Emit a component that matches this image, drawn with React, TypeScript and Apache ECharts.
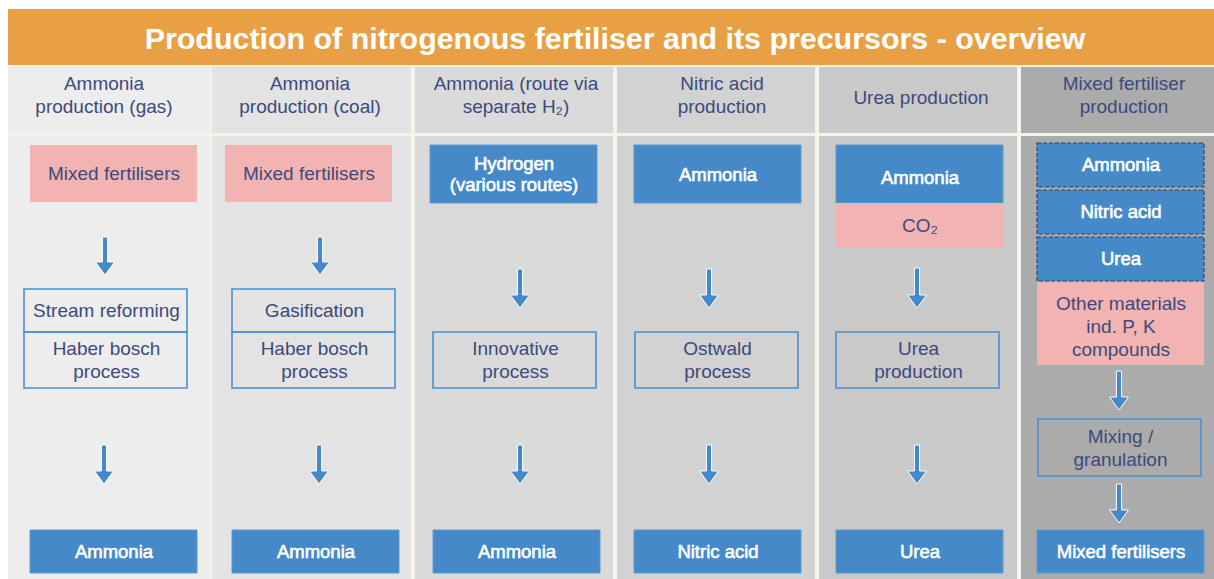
import React, { useEffect, useRef } from "react";
import * as echarts from "echarts";

// ---------- content ----------
const TITLE = "Production of nitrogenous fertiliser and its precursors - overview";

const columnTitles: string[][] = [
  ["Ammonia", "production (gas)"],
  ["Ammonia", "production (coal)"],
  ["Ammonia (route via", "separate H₂)"],
  ["Nitric acid", "production"],
  ["Urea production"],
  ["Mixed fertiliser", "production"],
];

type Role = "product" | "material" | "intermediate";
const inputs: { label: string[]; role: Role }[][] = [
  [{ label: ["Mixed fertilisers"], role: "material" }],
  [{ label: ["Mixed fertilisers"], role: "material" }],
  [{ label: ["Hydrogen", "(various routes)"], role: "product" }],
  [{ label: ["Ammonia"], role: "product" }],
  [
    { label: ["Ammonia"], role: "product" },
    { label: ["CO₂"], role: "material" },
  ],
  [
    { label: ["Ammonia"], role: "intermediate" },
    { label: ["Nitric acid"], role: "intermediate" },
    { label: ["Urea"], role: "intermediate" },
    { label: ["Other materials", "ind. P, K", "compounds"], role: "material" },
  ],
];

const processes: string[][][] = [
  [["Stream reforming"], ["Haber bosch", "process"]],
  [["Gasification"], ["Haber bosch", "process"]],
  [["Innovative", "process"]],
  [["Ostwald", "process"]],
  [["Urea", "production"]],
  [["Mixing /", "granulation"]],
];

const outputs: string[] = ["Ammonia", "Ammonia", "Ammonia", "Nitric acid", "Urea", "Mixed fertilisers"];

// ---------- layout ----------
const colLeft = [8, 212, 415, 617, 819, 1021];
const colRight = [210, 411, 613, 815, 1017, 1214];
const colFill = ["#EDEDED", "#E3E3E3", "#DADADA", "#D2D2D2", "#C9C9C9", "#ABABAB"];
const headerCx = [104, 310, 516, 722, 921, 1124];
const HEADER_TOP = 67;
const HEADER_BOTTOM = 133;
const BODY_TOP = 136;
const BODY_BOTTOM = 579;

const inputX = [30, 225, 430, 634, 836, 1037];
const BOX_W = 167;
const inputRows: number[][][] = [
  [[145, 57]],
  [[145, 57]],
  [[145, 58]],
  [[145, 58]],
  [[145, 58], [203, 45]],
  [[143, 44], [190, 44], [237, 44], [282, 83]],
];

const processX = [24, 232, 433, 635, 836, 1038];
const PROC_W = 163;
const processRows: number[][][] = [
  [[289, 43], [332, 56]],
  [[289, 43], [332, 56]],
  [[332, 56]],
  [[332, 56]],
  [[332, 56]],
  [[419, 57]],
];

const arrows: number[][][] = [
  [[105, 237, 275], [104, 445, 484]],
  [[320, 237, 275], [319, 445, 484]],
  [[520, 269, 308], [520, 445, 484]],
  [[709, 269, 308], [709, 445, 484]],
  [[917, 268, 308], [917, 445, 484]],
  [[1119, 371, 410], [1119, 484, 523]],
];

const outputX = [30, 232, 433, 634, 836, 1037];
const OUT_Y = 530;
const OUT_H = 43;

// ---------- styles ----------
const FONT = '"Liberation Sans", Arial, Helvetica, sans-serif';
const NAVY = "#3D4A7B";
const BLUE = "#4589C8";
const PINK = "#F1B4B3";
const ORANGE = "#E9A044";
const GAP = "#F3F5E9";

function textEl(lines: string[], cx: number, cy: number, opts: any = {}) {
  const lh = opts.lineHeight ?? 23;
  const style: any = {
    text: lines.join("\n"),
    x: cx,
    y: cy,
    align: "center",
    verticalAlign: "middle",
    fontFamily: FONT,
    fontSize: opts.fontSize ?? 19,
    fontWeight: opts.fontWeight ?? "normal",
    lineHeight: lh,
    fill: opts.fill ?? NAVY,
  };
  if (opts.semibold) {
    style.stroke = opts.fill;
    style.lineWidth = 0.6;
  }
  return { type: "text", silent: true, z: 10, style };
}

function arrowEl(cx: number, y0: number, y1: number) {
  const sw = 2.6;
  const hw = 9.5;
  const hh = 13;
  return {
    type: "polygon",
    silent: true,
    z: 5,
    shape: {
      points: [
        [cx - sw, y0],
        [cx + sw, y0],
        [cx + sw, y1 - hh],
        [cx + hw, y1 - hh],
        [cx, y1],
        [cx - hw, y1 - hh],
        [cx - sw, y1 - hh],
      ],
    },
    style: { fill: BLUE, stroke: "#FFFFFF", lineWidth: 1, lineJoin: "round" },
  };
}

const WHITE_TXT = { fill: "#FFFFFF", fontSize: 18.5, semibold: true };

function buildGraphics() {
  const els: any[] = [];
  els.push({ type: "rect", shape: { x: 8, y: 62, width: 1206, height: 517 }, style: { fill: GAP }, z: 0 });
  els.push({ type: "rect", shape: { x: 8, y: 9, width: 1206, height: 56 }, style: { fill: ORANGE }, z: 1 });
  els.push(textEl([TITLE], 615, 38, { fontSize: 30.4, fontWeight: "bold", fill: "#FFFFFF" }));

  columnTitles.forEach((title, i) => {
    const w = colRight[i] - colLeft[i];
    els.push({
      type: "rect",
      shape: { x: colLeft[i], y: HEADER_TOP, width: w, height: HEADER_BOTTOM - HEADER_TOP },
      style: { fill: colFill[i] },
      z: 1,
    });
    els.push({
      type: "rect",
      shape: { x: colLeft[i], y: BODY_TOP, width: w, height: BODY_BOTTOM - BODY_TOP },
      style: { fill: colFill[i] },
      z: 1,
    });
    const cy = title.length === 1 ? 97 : 95;
    els.push(textEl(title, headerCx[i], cy));

    inputs[i].forEach((item, j) => {
      const [y, h] = inputRows[i][j];
      const x = inputX[i];
      let style: any;
      let txt: any;
      if (item.role === "material") {
        style = { fill: PINK };
        txt = { fill: NAVY };
      } else if (item.role === "product") {
        style = { fill: BLUE, stroke: "#5E9AD2", lineWidth: 1 };
        txt = { ...WHITE_TXT, lineHeight: 21 };
      } else {
        style = { fill: BLUE, stroke: "#2C4472", lineWidth: 1.2, lineDash: [4, 2] };
        txt = { ...WHITE_TXT };
      }
      els.push({ type: "rect", shape: { x, y, width: BOX_W, height: h }, style, z: 3 });
      let cy2 = y + h / 2;
      if (i === 4 && j === 0) cy2 += 3;
      if (item.role === "intermediate") cy2 -= 1;
      if (i === 5 && j === 3) cy2 += 3;
      els.push(textEl(item.label, x + BOX_W / 2 + 0.5, cy2, txt));
    });

    processes[i].forEach((lines, j) => {
      const [y, h] = processRows[i][j];
      const x = processX[i];
      els.push({
        type: "rect",
        shape: { x, y, width: PROC_W, height: h },
        style: { fill: "none", stroke: "#4A8ED0", lineWidth: 1.6 },
        z: 3,
      });
      els.push(textEl(lines, x + PROC_W / 2 + 1, y + h / 2));
    });

    arrows[i].forEach(([cx, y0, y1]) => els.push(arrowEl(cx, y0, y1)));

    els.push({
      type: "rect",
      shape: { x: outputX[i], y: OUT_Y, width: BOX_W, height: OUT_H },
      style: { fill: BLUE, stroke: "#5E9AD2", lineWidth: 1 },
      z: 3,
    });
    els.push(textEl([outputs[i]], outputX[i] + BOX_W / 2 + 0.5, OUT_Y + OUT_H / 2, WHITE_TXT));
  });
  return els;
}

export default function App() {
  const ref = useRef<HTMLDivElement>(null);
  useEffect(() => {
    if (!ref.current) return;
    const chart = echarts.init(ref.current, undefined, { renderer: "svg" });
    chart.setOption({
      animation: false,
      backgroundColor: "#FFFFFF",
      graphic: { elements: buildGraphics() },
    });
    return () => chart.dispose();
  }, []);
  return (
    <div
      ref={ref}
      style={{ position: "fixed", left: 0, top: 0, width: 1214, height: 579 }}
    />
  );
}
